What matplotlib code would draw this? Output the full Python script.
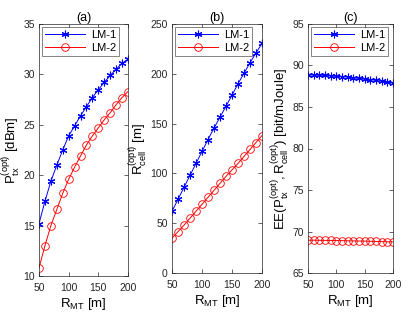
import matplotlib
matplotlib.use("Agg")
import matplotlib.pyplot as plt

plt.rcParams['font.family'] = ['Liberation Sans', 'DejaVu Sans']
plt.rcParams['mathtext.fontset'] = 'custom'
plt.rcParams['mathtext.rm'] = 'Liberation Sans'
plt.rcParams['mathtext.it'] = 'Liberation Sans'
plt.rcParams['mathtext.default'] = 'regular'

r_mt = [50, 60, 70, 80, 90, 100, 110, 120, 130, 140, 150, 160, 170, 180, 190, 200]

p_lm1 = [15.2, 17.4, 19.4, 21.0, 22.5, 23.9, 24.9, 25.9, 26.8, 27.7, 28.5, 29.2, 29.9, 30.5, 31.1, 31.5]
p_lm2 = [10.8, 13.0, 15.0, 16.6, 18.2, 19.6, 20.8, 21.9, 23.0, 23.9, 24.7, 25.5, 26.2, 27.0, 27.7, 28.3]

r_lm1 = [62, 74, 86, 98, 110, 122, 134, 145.5, 156.5, 167.5, 178.5, 190, 200.5, 211, 221, 230.5]
r_lm2 = [35, 41.5, 48, 55, 62, 69, 76, 83, 90, 97, 103.5, 110, 117, 124, 131, 138]

ee_lm1 = [88.85, 88.85, 88.83, 88.8, 88.75, 88.7, 88.65, 88.6, 88.5, 88.45, 88.35, 88.3, 88.2, 88.1, 88.0, 87.9]
ee_lm2 = [68.95, 68.95, 68.94, 68.93, 68.92, 68.91, 68.9, 68.88, 68.87, 68.85, 68.84, 68.82, 68.8, 68.78, 68.76, 68.74]

series_names = ['LM-1', 'LM-2']
titles = ['(a)', '(b)', '(c)']
ylabels = [r'$P_{tx}^{(opt)}$ [dBm]',
           r'$R_{cell}^{(opt)}$ [m]',
           r'$EE(P_{tx}^{(opt)},R_{cell}^{(opt)})$ [bit/mJoule]']
ylims = [(10, 35), (0, 250), (65, 95)]
yticks = [[10, 15, 20, 25, 30, 35], [0, 50, 100, 150, 200, 250], [65, 70, 75, 80, 85, 90, 95]]
data = [(p_lm1, p_lm2), (r_lm1, r_lm2), (ee_lm1, ee_lm2)]

W, H = 415, 312
fig = plt.figure(figsize=(W / 100, H / 100), dpi=100)
boxes = [(39, 128, 24, 276), (172, 262, 24, 273), (308, 393, 24, 273)]
fs = 7.5
edge = '#262626'
asterisk = (6, 2, 0)
for i, (l, r, t, b) in enumerate(boxes):
    ax = fig.add_axes([l / W, 1 - b / H, (r - l) / W, (b - t) / H])
    y1, y2 = data[i]
    ax.plot(r_mt, y1, color='b', marker=asterisk, markersize=5.5, markeredgewidth=0.8,
            linewidth=0.7, label=series_names[0])
    ax.plot(r_mt, y2, color='r', marker='o', markersize=5.5, markerfacecolor='none',
            markeredgewidth=0.6, linewidth=0.7, label=series_names[1])
    ax.set_xlim(50, 200)
    ax.set_ylim(*ylims[i])
    ax.set_xticks([50, 100, 150, 200])
    ax.set_yticks(yticks[i])
    ax.tick_params(direction='in', top=True, right=True, labelsize=fs, length=3,
                   width=0.5, colors=edge)
    ax.tick_params(axis='x', pad=5)
    ax.tick_params(axis='y', pad=3)
    for s in ax.spines.values():
        s.set_linewidth(0.5)
        s.set_color(edge)
    ax.set_title(titles[i], fontsize=fs + 1.5, pad=2)
    ax.set_xlabel(r'$R_{MT}$ [m]', fontsize=fs + 2, labelpad=2)
    ax.set_ylabel(ylabels[i], fontsize=fs + 2, labelpad=1)
    leg = ax.legend(loc='upper left', fontsize=fs + 0.5, frameon=True, fancybox=False,
                    borderpad=0.3, handlelength=3.6, handletextpad=0.5,
                    labelspacing=0.25, borderaxespad=0.25)
    leg.get_frame().set_edgecolor(edge)
    leg.get_frame().set_linewidth(0.5)

fig.savefig('out.png', dpi=100)
